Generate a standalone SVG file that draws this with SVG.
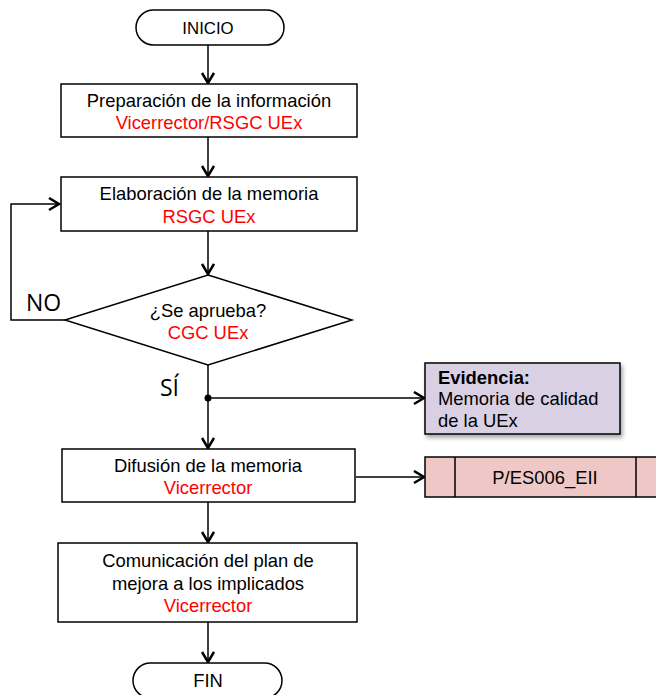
<svg xmlns="http://www.w3.org/2000/svg" width="656" height="695" viewBox="0 0 656 695">
<style>
.box{fill:#fff;stroke:#000;stroke-width:1.5}
.t{font-family:"Liberation Sans",Arial,sans-serif;font-size:18.4px;fill:#000;text-anchor:middle}
.r{fill:#ff0000}
.c{fill:none;stroke:#000;stroke-width:1.5}
.big{font-family:"Open Sans","Liberation Sans",sans-serif;font-size:23px;fill:#000}
</style>
<defs>
<marker id="ah" markerUnits="userSpaceOnUse" markerWidth="16" markerHeight="16" refX="11" refY="7" orient="auto">
<path d="M1,1 L11,7 L1,13" fill="none" stroke="#000" stroke-width="2.5"/>
</marker>
<filter id="sh" x="-10%" y="-10%" width="130%" height="140%">
<feDropShadow dx="2" dy="3" stdDeviation="2" flood-color="#000" flood-opacity="0.35"/>
</filter>
</defs>
<g id="connectors">
<line class="c" x1="208" y1="45" x2="208" y2="83" marker-end="url(#ah)"/>
<line class="c" x1="208" y1="137" x2="208" y2="176" marker-end="url(#ah)"/>
<line class="c" x1="208" y1="231" x2="208" y2="274" marker-end="url(#ah)"/>
<polyline class="c" points="65,320 11,320 11,204 59,204" marker-end="url(#ah)"/>
<line class="c" x1="208" y1="365" x2="208" y2="448" marker-end="url(#ah)"/>
<line class="c" x1="208" y1="398" x2="424" y2="398" marker-end="url(#ah)"/>
<circle cx="208" cy="398" r="3.5" fill="#000"/>
<line class="c" x1="356" y1="477" x2="424" y2="477" marker-end="url(#ah)"/>
<line class="c" x1="208" y1="502" x2="208" y2="542" marker-end="url(#ah)"/>
<line class="c" x1="208" y1="622" x2="208" y2="662" marker-end="url(#ah)"/>
<text class="big" x="26" y="311">NO</text>
<text class="big" x="160" y="396">SÍ</text>
</g>
<g id="inicio">
<rect class="box" x="136" y="10" width="148" height="35" rx="17.5"/>
<text class="t" x="208" y="34" style="font-size:16.8px">INICIO</text>
</g>
<g id="preparacion">
<rect class="box" x="61" y="84" width="296" height="53"/>
<text class="t" x="209" y="107">Preparación de la información</text>
<text class="t r" x="209" y="129">Vicerrector/RSGC UEx</text>
</g>
<g id="elaboracion">
<rect class="box" x="61" y="177" width="296" height="54"/>
<text class="t" x="209" y="200">Elaboración de la memoria</text>
<text class="t r" x="209" y="223">RSGC UEx</text>
</g>
<g id="decision">
<polygon class="box" points="208,275 352,320 208,365 65,320"/>
<text class="t" x="208" y="317">¿Se aprueba?</text>
<text class="t r" x="208" y="339">CGC UEx</text>
</g>
<g id="evidencia">
<rect x="425" y="363" width="195" height="71" fill="#d9d0e4" stroke="#000" stroke-width="1.5" filter="url(#sh)"/>
<text class="t" x="438" y="384" style="text-anchor:start;font-weight:bold">Evidencia:</text>
<text class="t" x="438" y="405" style="text-anchor:start">Memoria de calidad</text>
<text class="t" x="438" y="427" style="text-anchor:start">de la UEx</text>
</g>
<g id="difusion">
<rect class="box" x="62" y="449" width="293" height="53"/>
<text class="t" x="208" y="472">Difusión de la memoria</text>
<text class="t r" x="208" y="494">Vicerrector</text>
</g>
<g id="proceso">
<rect x="425" y="457" width="240" height="40" fill="#eec8c6" stroke="#000" stroke-width="1.5"/>
<line x1="455" y1="457" x2="455" y2="497" stroke="#000" stroke-width="1.5"/>
<line x1="636" y1="457" x2="636" y2="497" stroke="#000" stroke-width="1.5"/>
<text class="t" x="545" y="484">P/ES006_EII</text>
</g>
<g id="comunicacion">
<rect class="box" x="58" y="543" width="299" height="79"/>
<text class="t" x="208" y="567">Comunicación del plan de</text>
<text class="t" x="208" y="590">mejora a los implicados</text>
<text class="t r" x="208" y="612">Vicerrector</text>
</g>
<g id="fin">
<rect class="box" x="133" y="663" width="149" height="35" rx="17.5"/>
<text class="t" x="208" y="687">FIN</text>
</g>
</svg>
